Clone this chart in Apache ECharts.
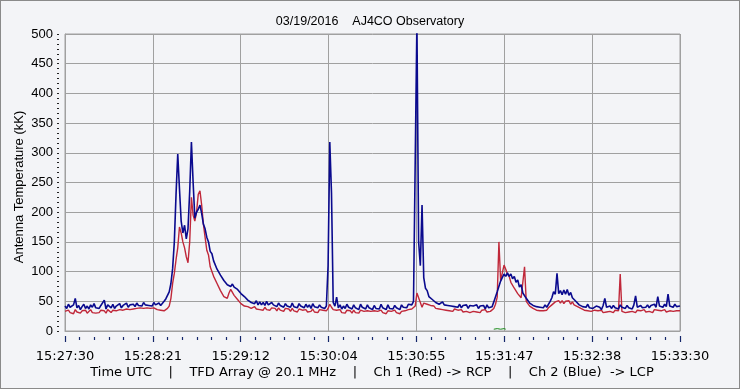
<!DOCTYPE html>
<html>
<head>
<meta charset="utf-8">
<script src="https://cdn.jsdelivr.net/npm/echarts@6/dist/echarts.min.js"></script>
<style>
html,body{margin:0;padding:0;background:#f3f4f7;}
#frame{position:absolute;left:0;top:0;width:738px;height:387px;border:1px solid #8a8a8a;background:#f3f4f7;}
#chart{position:absolute;left:-1px;top:-1px;width:740px;height:389px;}
</style>
</head>
<body>
<div id="frame"><div id="chart"></div></div>
<script>
// ---- data (seconds after 15:27:30 UTC, 1 s per sample) ----
const startSec = 0;
const stepSec = 1;
const xTickLabels = ['15:27:30','15:28:21','15:29:12','15:30:04','15:30:55','15:31:47','15:32:38','15:33:30'];
const yTicks = [0,50,100,150,200,250,300,350,400,450,500];

// Ch 2 (Blue) -> LCP, kK
const blueValues = [
42,38,45,40,37,44,55,39,43,36,
41,45,38,42,37,44,40,46,39,42,
38,43,40,52,37,44,41,39,45,38,
42,40,46,39,43,41,47,40,44,42,
45,41,47,43,46,42,48,44,47,43,
46,42,48,44,45,47,43,46,50,54,
56,66,80,105,150,230,298,240,185,165,
178,155,172,235,318,250,190,200,205,212,
198,180,172,158,150,134,130,118,116,104,
103,94,95,85,86,78,80,75,79,74,
77,70,72,63,65,58,59,52,55,48,
50,46,51,44,49,44,48,43,50,44,
42,48,44,46,41,47,43,45,40,46,
42,45,40,47,41,44,39,46,42,43,
39,45,40,44,38,46,41,43,39,44,
40,43,38,42,110,318,232,48,42,57,
39,44,37,42,38,45,40,43,37,44,
39,42,36,45,40,41,37,44,39,42,
36,43,38,41,37,45,39,42,36,44,
38,41,37,43,39,42,36,44,40,43,
39,45,48,44,50,47,520,150,110,212,
90,72,68,58,61,53,55,48,50,45,
46,49,44,47,43,46,42,45,41,44,
40,45,39,43,41,44,38,43,40,42,
39,44,38,42,40,43,37,44,39,42,
41,49,52,66,68,84,86,96,92,98,
92,96,88,92,82,86,74,78,64,66,
55,56,47,50,43,46,41,44,40,43,
39,44,40,43,50,56,66,62,97,63,
68,61,69,62,70,60,65,56,57,50,
51,44,46,41,43,40,45,39,42,38,
37,42,39,40,36,43,55,40,37,42,
38,43,39,41,37,44,40,42,38,43,
39,41,37,44,59,40,38,43,39,42,
40,44,39,43,41,45,40,58,42,44,
40,45,41,62,42,44,40,45,41,43,
42
];

// Ch 1 (Red) -> RCP, kK
const redValues = [
33,30,35,31,34,29,36,32,33,30,
34,31,35,30,33,36,31,34,30,33,
31,35,32,34,30,36,33,31,35,32,
34,31,36,33,35,32,37,34,36,33,
37,34,38,35,39,36,38,35,39,37,
38,36,39,37,36,38,35,37,34,36,
38,42,55,80,97,120,140,175,165,150,
140,125,115,150,225,195,185,200,230,236,
212,180,158,136,128,108,106,92,92,80,
79,68,66,58,60,55,64,70,72,60,
60,53,52,46,49,42,44,41,42,38,
38,41,37,40,36,39,35,40,36,38,
35,39,36,38,34,39,35,37,33,38,
35,37,33,38,34,36,32,37,34,35,
33,36,32,35,33,37,32,35,31,36,
33,35,32,34,38,45,40,36,33,35,
32,36,31,34,30,35,32,34,30,35,
31,34,30,35,32,33,30,34,31,33,
30,34,31,33,30,35,31,34,29,34,
31,33,30,35,31,34,29,33,31,34,
32,36,38,37,40,42,64,61,48,40,
47,44,45,42,43,40,42,38,40,37,
39,36,38,35,37,34,36,33,37,34,
35,33,36,32,35,33,36,31,34,33,
35,32,34,31,35,33,36,32,34,33,
35,38,45,57,150,85,98,111,104,96,
92,82,82,72,71,63,64,56,59,108,
50,49,42,44,38,40,35,38,34,36,
34,37,35,39,40,44,43,49,46,51,
47,51,46,50,47,51,45,49,44,46,
41,43,38,40,35,37,34,37,33,36,
35,32,34,33,35,31,34,32,35,33,
34,31,35,32,34,96,33,35,31,34,
32,35,33,34,31,35,32,34,33,36,
32,35,33,34,31,36,33,35,32,34,
33,36,32,35,34,37,33,36,34,35,
34
];

// small third trace near zero
const greenTimes = [251,252,253,254,255,256,257,258];
const greenValues = [3,5,4,5,3,5,4,3];

// ---- build ----
const toPairs = vals => vals.map((v, i) => [startSec + i * stepSec, v]);
const xInterval = 360 / 7;
const tickColor = '#14266a';

const chart = echarts.init(document.getElementById('chart'), null, {renderer: 'canvas'});
chart.setOption({
  animation: false,
  backgroundColor: 'transparent',
  title: {
    text: '03/19/2016    AJ4CO Observatory',
    left: 'center',
    top: 10,
    textStyle: {fontFamily: 'Liberation Sans', fontSize: 12.5, fontWeight: 'normal', color: '#000'}
  },
  grid: {
    left: 65, right: 60, top: 34, bottom: 58,
    show: true, backgroundColor: '#f3f4f7', borderColor: '#a0a0a0', borderWidth: 1
  },
  xAxis: {
    type: 'value', min: 0, max: 360, interval: xInterval,
    axisLine: {show: true, onZero: false, lineStyle: {color: '#a0a0a0'}},
    axisTick: {show: true, length: 11, lineStyle: {color: tickColor, width: 1.2, type: [0, 5, 6, 60]}},
    minorTick: {show: true, splitNumber: 6, length: 9, lineStyle: {color: tickColor, width: 1.2, type: [0, 6, 3, 60]}},
    splitLine: {show: true, lineStyle: {color: '#a0a0a0', width: 1}},
    axisLabel: {
      margin: 19,
      fontFamily: 'DejaVu Sans', fontSize: 13, color: '#000',
      formatter: v => xTickLabels[Math.round(v / xInterval)] || ''
    }
  },
  yAxis: {
    type: 'value', min: 0, max: 500, interval: 50,
    axisLine: {show: true, onZero: false, lineStyle: {color: '#a0a0a0'}},
    axisTick: {show: true, length: 8, lineStyle: {color: '#222', width: 1, type: [0, 6, 2, 60]}},
    minorTick: {show: true, splitNumber: 6, length: 8, lineStyle: {color: '#222', width: 1, type: [0, 6, 2, 60]}},
    splitLine: {show: true, lineStyle: {color: '#a0a0a0', width: 1}},
    axisLabel: {
      margin: 12,
      fontFamily: 'Liberation Sans', fontSize: 13, color: '#000',
      formatter: v => (yTicks.indexOf(v) >= 0 ? String(v) : '')
    }
  },
  graphic: [
    {
      type: 'text', rotation: Math.PI / 2,
      x: 19, y: 187,
      style: {text: 'Antenna Temperature (kK)', fontFamily: 'Liberation Sans', fontSize: 13, fill: '#000', textAlign: 'center', textVerticalAlign: 'middle'}
    },
    {
      type: 'text', x: 372, y: 373,
      style: {text: 'Time UTC    |    TFD Array @ 20.1 MHz    |    Ch 1 (Red) -> RCP    |    Ch 2 (Blue)  -> LCP',
        fontFamily: 'DejaVu Sans', fontSize: 13, fill: '#000', textAlign: 'center', textVerticalAlign: 'middle'}
    }
  ],
  series: [
    {
      name: 'Ch 1', type: 'line', data: toPairs(redValues), showSymbol: false, symbol: 'none',
      lineStyle: {color: '#c0283a', width: 1.4}, z: 2
    },
    {
      name: 'Ch 2', type: 'line', data: toPairs(blueValues), showSymbol: false, symbol: 'none',
      lineStyle: {color: '#0a0a8e', width: 1.6}, z: 3
    },
    {
      name: 'Ch 3', type: 'line', data: greenTimes.map((t, i) => [t, greenValues[i]]), showSymbol: false, symbol: 'none',
      lineStyle: {color: '#1a8a1a', width: 1}, z: 4
    }
  ]
});
</script>
</body>
</html>
